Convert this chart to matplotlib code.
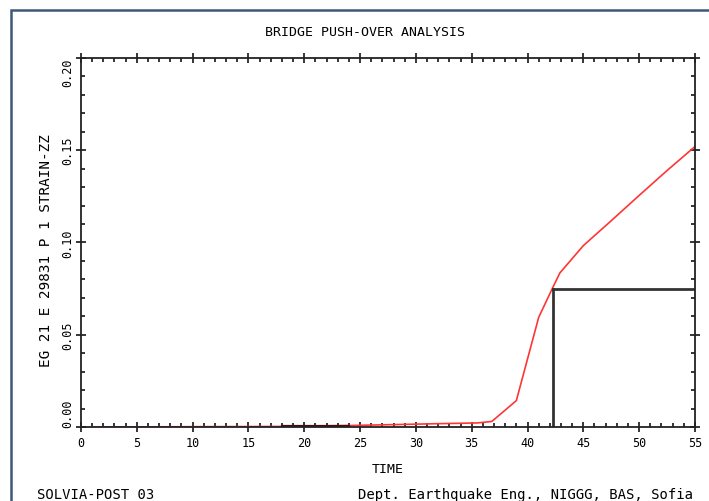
import matplotlib.pyplot as plt
from matplotlib.patches import Rectangle
from matplotlib.ticker import MultipleLocator

plt.rcParams['font.family'] = 'DejaVu Sans Mono'

# strain history of the monitored element
time = [1, 18, 24, 28, 32, 35.5, 36.8, 39, 41, 42.2, 42.9, 45, 47.5, 50, 52.5, 55]
strain = [0.0, 0.0003, 0.0008, 0.0013, 0.0018, 0.0022, 0.003, 0.0143, 0.0594,
          0.0748, 0.0835, 0.0983, 0.1118, 0.1255, 0.139, 0.152]

# short dark stretch along the base line
base_t = [18, 24]
base_v = [0.0003, 0.0003]

# reading marker
mark_t = 42.3
mark_v = 0.075

xticks = [0, 5, 10, 15, 20, 25, 30, 35, 40, 45, 50, 55]
yticks = [0.00, 0.05, 0.10, 0.15, 0.20]
ytick_labels = ['0.00', '0.05', '0.10', '0.15', '0.20']

fig = plt.figure(figsize=(7.09, 5.02), dpi=100)
ax = fig.add_axes([0.1142, 0.1474, 0.866, 0.7351])

ax.plot(time, strain, color='#ff3535', lw=1.2)
ax.plot(base_t, base_v, color='#401010', lw=1.6)
ax.plot([mark_t, mark_t], [0, mark_v], color='#333333', lw=2)
ax.plot([mark_t, 55], [mark_v, mark_v], color='#333333', lw=2)

ax.set_xlim(0, 55)
ax.set_ylim(0, 0.20)
ax.set_xticks(xticks)
ax.set_yticks(yticks)
ax.set_yticklabels(ytick_labels, rotation=90, va='center')
ax.xaxis.set_minor_locator(MultipleLocator(1))
ax.yaxis.set_minor_locator(MultipleLocator(0.01))
ax.tick_params(which='major', direction='inout', length=7, width=1.1,
               top=True, right=True, labelsize=8.5, pad=3)
ax.tick_params(axis='y', which='major', pad=1)
ax.tick_params(which='minor', direction='in', length=3, width=1.1,
               top=True, right=True)
ytl = ax.get_yticklabels()
ytl[0].set_va('bottom')
ytl[-1].set_va('top')

for s in ax.spines.values():
    s.set_linewidth(1.3)
    s.set_color('#222222')

ax.set_xlabel('TIME', fontsize=9.5, labelpad=9)
ax.set_ylabel('EG 21 E 29831 P 1 STRAIN-ZZ', fontsize=10.3)
ax.yaxis.set_label_coords(-0.0455, 0.482)

fig.text(0.515, 0.936, 'BRIDGE PUSH-OVER ANALYSIS', ha='center', va='center', fontsize=9.5)
fig.text(0.052, 0.014, 'SOLVIA-POST 03', ha='left', va='center', fontsize=10)
fig.text(0.977, 0.014, 'Dept. Earthquake Eng., NIGGG, BAS, Sofia', ha='right', va='center', fontsize=10)

# outer frame
fig.patches.append(Rectangle((0.0155, -0.1), 1.2, 1.078, transform=fig.transFigure,
                             fill=False, edgecolor='#3d5878', lw=1.8))

fig.savefig('out.png', dpi=100)
